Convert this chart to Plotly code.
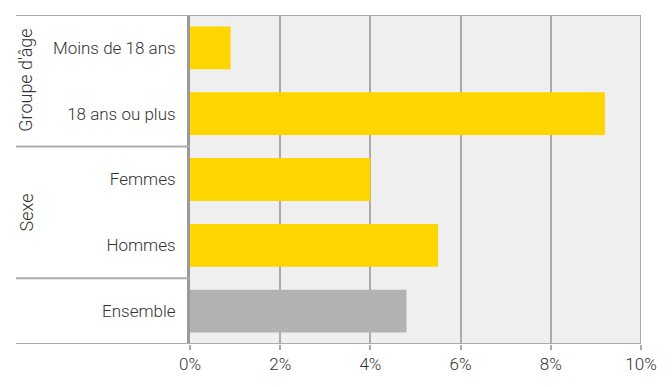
import plotly.graph_objects as go

# Share of people (%) by category, listed top to bottom
categories = ["Moins de 18 ans", "18 ans ou plus", "Femmes", "Hommes", "Ensemble"]
values = [0.9, 9.2, 4.0, 5.5, 4.8]
bar_colors = ["#FFD500", "#FFD500", "#FFD500", "#FFD500", "#B2B2B2"]

# Group labels with the category indices they span
groups = [("Groupe d'âge", 0, 1), ("Sexe", 2, 3)]
# Divider positions between category blocks
dividers = [-0.5, 1.5, 3.5, 4.5]

x_ticks = [0, 2, 4, 6, 8, 10]
x_tick_labels = [f"{t}%" for t in x_ticks]

FONT = "Roboto"
TEXT = "#333333"
LINE = "#ababab"
SIZE = 17

fig = go.Figure(
    go.Bar(
        x=values,
        y=categories,
        orientation="h",
        marker=dict(color=bar_colors, line=dict(width=0)),
        width=0.65,
        hoverinfo="skip",
    )
)

left_paper = (16 - 190) / 451

shapes = []
for d in dividers:
    shapes.append(dict(
        type="line", xref="paper", yref="y",
        x0=left_paper, x1=0 if d not in (-0.5, 4.5) else 1, y0=d, y1=d,
        line=dict(color=LINE, width=2),
        layer="above",
    ))

annotations = []
for name, a, b in groups:
    annotations.append(dict(
        text=name, textangle=-90, xref="paper", yref="y",
        x=(26 - 190) / 451, y=(a + b) / 2, showarrow=False,
        xanchor="center", yanchor="middle",
        font=dict(family=FONT, size=18, color=TEXT, weight=300),
    ))

fig.update_layout(
    width=672, height=387,
    margin=dict(l=190, r=31, t=15, b=43),
    paper_bgcolor="white",
    plot_bgcolor="#EFEFEF",
    showlegend=False,
    bargap=0.35,
    shapes=shapes,
    annotations=annotations,
    xaxis=dict(
        range=[0, 10],
        tickvals=x_ticks,
        ticktext=x_tick_labels,
        showgrid=True, gridcolor=LINE, gridwidth=2,
        zeroline=False,
        showline=False,
        ticks="outside", ticklen=5, tickcolor=LINE, tickwidth=2,
        tickfont=dict(family=FONT, size=SIZE, color=TEXT, weight=300),
        fixedrange=True,
    ),
    yaxis=dict(
        type="category",
        categoryorder="array", categoryarray=categories,
        range=[4.5, -0.5],
        showgrid=False,
        showline=True, linecolor="#9a9a9a", linewidth=3,
        ticks="", ticklabelstandoff=8,
        tickfont=dict(family=FONT, size=SIZE, color=TEXT, weight=300),
        fixedrange=True,
    ),
)

# right border of the plotting area
fig.add_shape(type="line", xref="x", yref="paper", x0=10, x1=10, y0=0, y1=1,
              line=dict(color=LINE, width=2), layer="above")

fig.write_html("out.html")
